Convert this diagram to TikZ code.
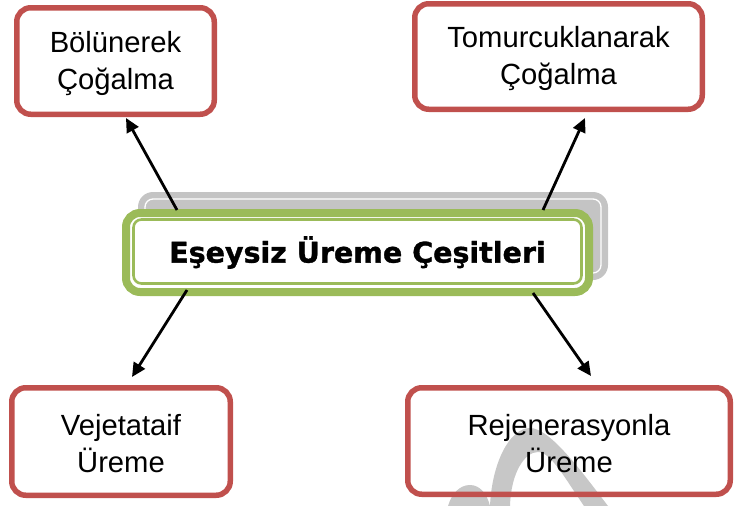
\documentclass[tikz,border=0pt]{standalone}
\usepackage{fontspec}
\setmainfont{Liberation Sans}
\newfontfamily\titlefont{DejaVu Sans Bold}[FakeBold=1.2]
\usetikzlibrary{arrows.meta}
\definecolor{boxred}{HTML}{C0504D}
\definecolor{boxgreen}{HTML}{9BBB59}
\definecolor{shadowgray}{HTML}{C4C4C4}
\tikzset{
  redbox/.style={draw=boxred, line width=5.5pt, rounded corners=14pt, align=center,
    inner sep=0pt, font=\fontsize{29.2}{37}\selectfont},
  arr/.style={line width=2.8pt, -{Triangle[length=14pt,width=13pt]}},
}
\begin{document}
\begin{tikzpicture}[x=1pt,y=-1pt]
\useasboundingbox (0,0) rectangle (734,506);
% shadow of the central box
\fill[shadowgray, rounded corners=15pt] (138,192) rectangle (608,280);
\draw[white, line width=1.3pt, rounded corners=8pt] (145,199) rectangle (601,273);
% central box
\node[draw=boxgreen, fill=white, line width=8pt, rounded corners=14pt,
  minimum width=463pt, minimum height=79pt, inner sep=0pt,
  font=\titlefont\fontsize{28.5}{34}\selectfont] (c) at (357.5,252.5)
  {Eşeysiz Üreme Çeşitleri};
\draw[boxgreen, line width=2.6pt, rounded corners=8pt] (133.5,219.5) rectangle (581.5,283.5);
% watermark
\fill[black, opacity=0.22] (490,506) .. controls (492,462) and (510,428) .. (530,428)
  .. controls (550,428) and (582,472) .. (608,506) -- (584,506)
  .. controls (566,480) and (551,452) .. (538,452)
  .. controls (525,452) and (511,472) .. (510,506) -- cycle;
\fill[black, opacity=0.22] (448,506) .. controls (452,493) and (460,485) .. (470,485)
  .. controls (480,485) and (487,494) .. (490,506) -- cycle;
% outer boxes
\node[redbox, minimum width=197.5pt, minimum height=106.5pt] (b1) at (115.5,61)
  {\rule{0pt}{26pt}Bölünerek\\Çoğalma};
\node[redbox, minimum width=287.5pt, minimum height=105.5pt] (b2) at (558.5,56.5)
  {\rule{0pt}{26pt}Tomurcuklanarak\\Çoğalma};
\node[redbox, minimum width=218.5pt, minimum height=107.5pt] (b3) at (121,441.5)
  {\rule{0pt}{26pt}Vejetataif\\Üreme};
\node[redbox, minimum width=322.5pt, minimum height=106.5pt] (b4) at (569,441)
  {\rule{0pt}{26pt}Rejenerasyonla\\Üreme};
% arrow ends
\coordinate (s1) at (177,210); \coordinate (e1) at (126,118);
\coordinate (s2) at (543,210); \coordinate (e2) at (585,118);
\coordinate (s3) at (187,290); \coordinate (e3) at (132,377);
\coordinate (s4) at (533,293); \coordinate (e4) at (591,376);
\draw[arr] (s1) -- (e1);
\draw[arr] (s2) -- (e2);
\draw[arr] (s3) -- (e3);
\draw[arr] (s4) -- (e4);
\end{tikzpicture}
\end{document}
